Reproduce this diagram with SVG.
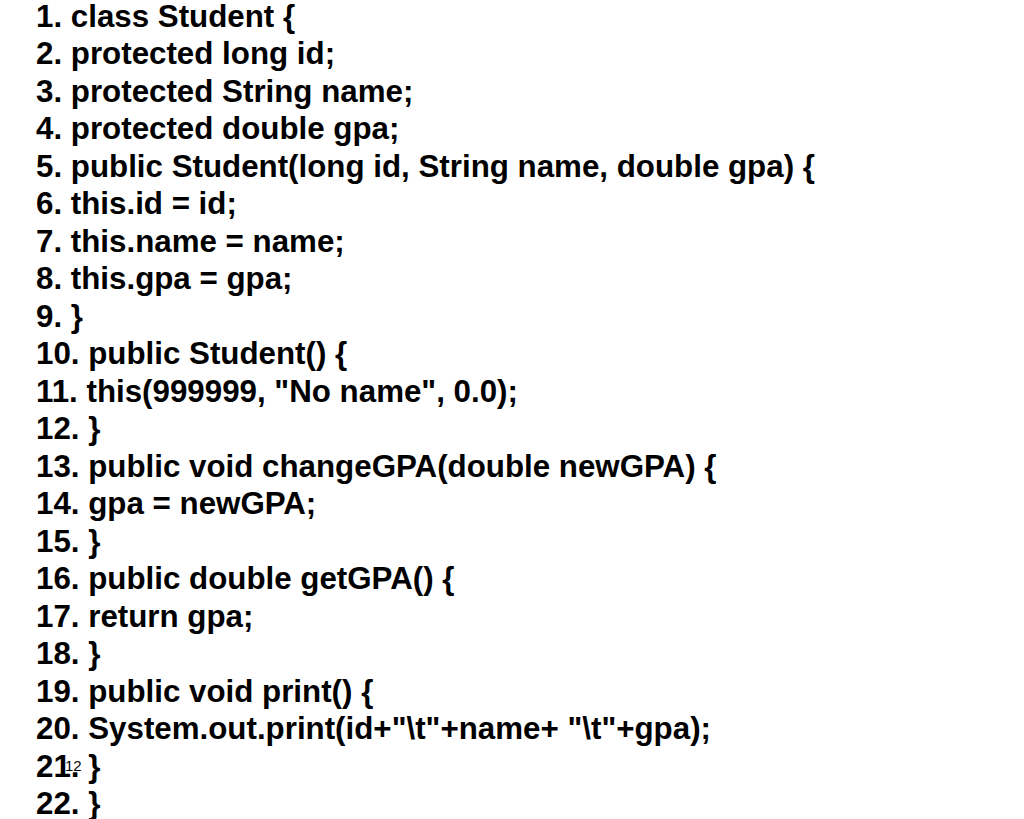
<svg xmlns="http://www.w3.org/2000/svg" width="1024" height="819" viewBox="0 0 1024 819">
<style>
.c{font-family:"Liberation Sans",Arial,sans-serif;font-weight:bold;font-size:31.3px;fill:#000}
.p{font-family:"Liberation Sans",Arial,sans-serif;font-size:15px;fill:#000}
</style>
<rect width="1024" height="819" fill="#fff"/>
<g id="code">
<text class="c" x="36" y="26.5">1. class Student {</text>
<text class="c" x="36" y="64">2. protected long id;</text>
<text class="c" x="36" y="101.5">3. protected String name;</text>
<text class="c" x="36" y="139">4. protected double gpa;</text>
<text class="c" x="36" y="176.5">5. public Student(long id, String name, double gpa) {</text>
<text class="c" x="36" y="214">6. this.id = id;</text>
<text class="c" x="36" y="251.5">7. this.name = name;</text>
<text class="c" x="36" y="289">8. this.gpa = gpa;</text>
<text class="c" x="36" y="326.5">9. }</text>
<text class="c" x="36" y="364">10. public Student() {</text>
<text class="c" x="36" y="401.5">11. this(999999, "No name", 0.0);</text>
<text class="c" x="36" y="439">12. }</text>
<text class="c" x="36" y="476.5">13. public void changeGPA(double newGPA) {</text>
<text class="c" x="36" y="514">14. gpa = newGPA;</text>
<text class="c" x="36" y="551.5">15. }</text>
<text class="c" x="36" y="589">16. public double getGPA() {</text>
<text class="c" x="36" y="626.5">17. return gpa;</text>
<text class="c" x="36" y="664">18. }</text>
<text class="c" x="36" y="701.5">19. public void print() {</text>
<text class="c" x="36" y="739">20. System.out.print(id+"\t"+name+ "\t"+gpa);</text>
<text class="c" x="36" y="776.5">21. }</text>
<text class="c" x="36" y="814">22. }</text>
</g>
<text id="page" class="p" x="65" y="771">12</text>
</svg>
